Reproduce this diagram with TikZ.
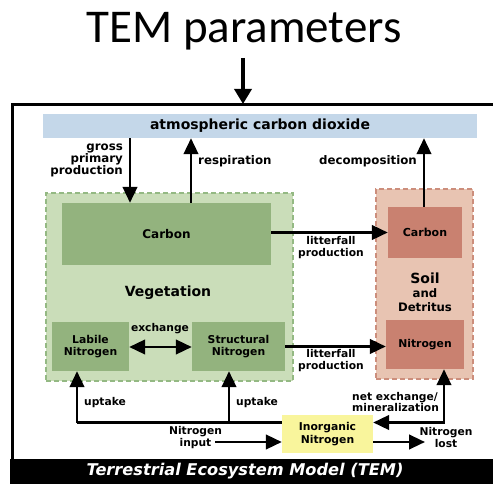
\documentclass[tikz,border=0pt]{standalone}
\usepackage{fontspec}
\setmainfont{DejaVu Sans}
\newfontfamily\calib{Carlito}
\usetikzlibrary{arrows.meta}
\definecolor{atmosC}{HTML}{C4D7E9}
\definecolor{vegF}{HTML}{CADDB9}
\definecolor{vegB}{HTML}{94B983}
\definecolor{vegI}{HTML}{93B37E}
\definecolor{soilF}{HTML}{E8C4B2}
\definecolor{soilB}{HTML}{CC8E7C}
\definecolor{soilI}{HTML}{C98170}
\definecolor{inorgC}{HTML}{F9F59C}
\tikzset{
  blk/.style={draw=none, inner sep=0pt, font=\bfseries\fontsize{10.8}{12.5}\selectfont, align=center},
  grp/.style={draw, dash pattern=on 5pt off 3pt, line width=1.6pt},
  lbl/.style={inner sep=0pt, font=\bfseries\fontsize{10.7}{11.2}\selectfont},
  tlbl/.style={inner sep=0pt, font=\bfseries\fontsize{11.8}{12}\selectfont},
  tip/.style={Triangle[length=16pt,width=14.5pt]},
  arr/.style={line width=2.7pt, -{Triangle[length=16pt,width=14.5pt]}},
  arrb/.style={line width=2.7pt, {Triangle[length=16pt,width=14.5pt]}-{Triangle[length=16pt,width=14.5pt]}},
  ln/.style={line width=2.7pt}
}
\begin{document}
\begin{tikzpicture}[x=1pt,y=-1pt]
\useasboundingbox (0,0) rectangle (493,484);
% title
\node[inner sep=0pt, font=\calib\fontsize{47}{50}\selectfont] (ttl) at (244,31) {TEM parameters};
\coordinate (fr) at (243,104);
\draw[line width=3.5pt, -{Triangle[length=15pt,width=17pt]}] (243,58) -- (fr);
% frame
\draw[line width=3pt] (12,460) -- (12,105) -- (495,105);
\fill[black] (10,459) rectangle (495,486);
\node[text=white, inner sep=0pt, font=\bfseries\itshape\fontsize{16.2}{18}\selectfont] (band) at (245,471) {Terrestrial Ecosystem Model (TEM)};
% boxes
\node[blk, fill=atmosC, minimum width=434pt, minimum height=24pt, font=\bfseries\fontsize{14}{15}\selectfont] (atmos) at (260,126) {atmospheric carbon dioxide};
\node[grp, draw=vegB, fill=vegF, minimum width=247pt, minimum height=188pt] (veg) at (169.5,287) {};
\node[grp, draw=soilB, fill=soilF, minimum width=97pt, minimum height=190pt] (soil) at (424.5,284) {};
\node[blk, fill=vegI, minimum width=209pt, minimum height=62pt, font=\bfseries\fontsize{12}{13}\selectfont] (vegC) at (166.5,234) {Carbon};
\node[blk, fill=vegI, minimum width=77pt, minimum height=49pt] (lab) at (90.5,346.5) {Labile\\Nitrogen};
\node[blk, fill=vegI, minimum width=93pt, minimum height=49pt] (str) at (238.5,346.5) {Structural\\Nitrogen};
\node[blk, fill=soilI, minimum width=74pt, minimum height=51pt, font=\bfseries\fontsize{11}{12}\selectfont] (soilC) at (425,232.5) {Carbon};
\node[blk, fill=soilI, minimum width=78pt, minimum height=49pt] (soilN) at (425,344.5) {Nitrogen};
\node[blk, fill=inorgC, minimum width=91pt, minimum height=38pt] (inorg) at (327.5,434) {Inorganic\\Nitrogen};
\node[inner sep=0pt, font=\bfseries\fontsize{14}{15}\selectfont] (vegT) at (168,293) {Vegetation};
\node[inner sep=0pt, font=\bfseries\fontsize{14}{15}\selectfont] (soilT) at (425,278) {Soil};
\node[inner sep=0pt, align=center, font=\bfseries\fontsize{11.7}{13.5}\selectfont] (detT) at (425,300) {and\\Detritus};
% coordinates
\coordinate (gx) at (130,0);
\coordinate (rx) at (191,0);
\coordinate (dx) at (424,0);
\coordinate (uL) at (77,422.5);
\coordinate (uR) at (229,422.5);
\coordinate (nx) at (444,422.5);
\coordinate (niy) at (215,442);
\coordinate (nly) at (425,442);
% arrows
\draw[arr] (atmos.south -| gx) -- (vegC.north -| gx);
\draw[arr] (vegC.north -| rx) -- (atmos.south -| rx);
\draw[arr] (soilC.north -| dx) -- (atmos.south -| dx);
\draw[arr] (vegC.east |- soilC.west) -- (soilC.west);
\draw[arr] (str.east) -- (soilN.west |- str.east);
\draw[arrb] (lab.east |- 0,347) -- (str.west |- 0,347);
\draw[ln] (uL) -- (inorg.west |- uL);
\draw[arr] (uL) -- (lab.south -| uL);
\draw[arr] (uR) -- (str.south -| uR);
\draw[arrb] (inorg.east |- nx) -- (nx) -- (soilN.south -| nx);
\draw[arr] (niy) -- (inorg.west |- niy);
\draw[arr] (inorg.east |- nly) -- (nly);
% labels
\node[tlbl, align=right, anchor=east] (gppL) at (123,160) {gross\\primary\\production};
\node[tlbl, anchor=west] (respL) at (198,161) {respiration};
\node[tlbl, anchor=east] (decL) at (417,161) {decomposition};
\node[lbl, align=center] (lit1) at (331,247.5) {litterfall\\production};
\node[lbl, align=center] (lit2) at (331,360.5) {litterfall\\production};
\node[lbl] (exL) at (160,329) {exchange};
\node[lbl] (up1) at (105,403) {uptake};
\node[lbl, anchor=west] (up2) at (236,403) {uptake};
\node[lbl, align=center] (niL) at (195.5,437.5) {Nitrogen\\input};
\node[lbl, align=center] (nlL) at (446,437.5) {Nitrogen\\lost};
\node[lbl, align=left, anchor=west] (neL) at (352,402) {net exchange/\\mineralization};
\end{tikzpicture}
\end{document}
